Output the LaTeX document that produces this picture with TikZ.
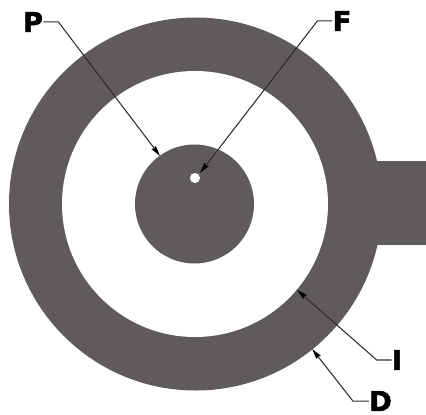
\documentclass[tikz,border=0pt]{standalone}
\usepackage{fontspec}
\setsansfont[BoldFeatures={FakeBold=2}]{DejaVu Sans}
\usetikzlibrary{arrows.meta}
\definecolor{bodygray}{HTML}{5F5B5C}
\definecolor{leadgray}{HTML}{2E2C2D}
\tikzset{
    partlabel/.style={font=\sffamily\bfseries\fontsize{15.5pt}{16pt}\selectfont, inner sep=0pt},
    leadline/.style={draw=leadgray, line width=0.6pt, -{Stealth[length=6pt,width=3pt,inset=0.5pt,black]}}
}
\begin{document}
\begin{tikzpicture}[scale=0.02]
            \useasboundingbox (0,0) rectangle (426,414);
            \fill[bodygray] (195.5,210) circle (186.5);
            \fill[bodygray] (360,169) rectangle (426,253);
            \fill[white] (195,210) circle (133);
            \fill[bodygray] (194.5,210) circle (59.5);
            \fill[white] (195,236) circle (5);
            \node[partlabel] (P) at (33,392) {P};
            \node[partlabel] (F) at (342,393) {F};
            \node[partlabel] (I) at (397,54) {I};
            \node[partlabel] (D) at (380.5,13) {D};
            \coordinate (Ptip) at (160,258);
            \coordinate (Ftip) at (200,241);
            \coordinate (Itip) at (297,124);
            \coordinate (Dtip) at (312,65);
            \draw[leadline] ([yshift=1.5pt]P.east) -- ++(15,0) -- (Ptip);
            \draw[leadline] ([yshift=1pt]F.west) -- ++(-15,0) -- (Ftip);
            \draw[leadline] (I.west) -- ++(-15,0) -- (Itip);
            \draw[leadline] ([yshift=-1pt]D.west) -- ++(-16,0) -- (Dtip);
        \end{tikzpicture}
\end{document}
